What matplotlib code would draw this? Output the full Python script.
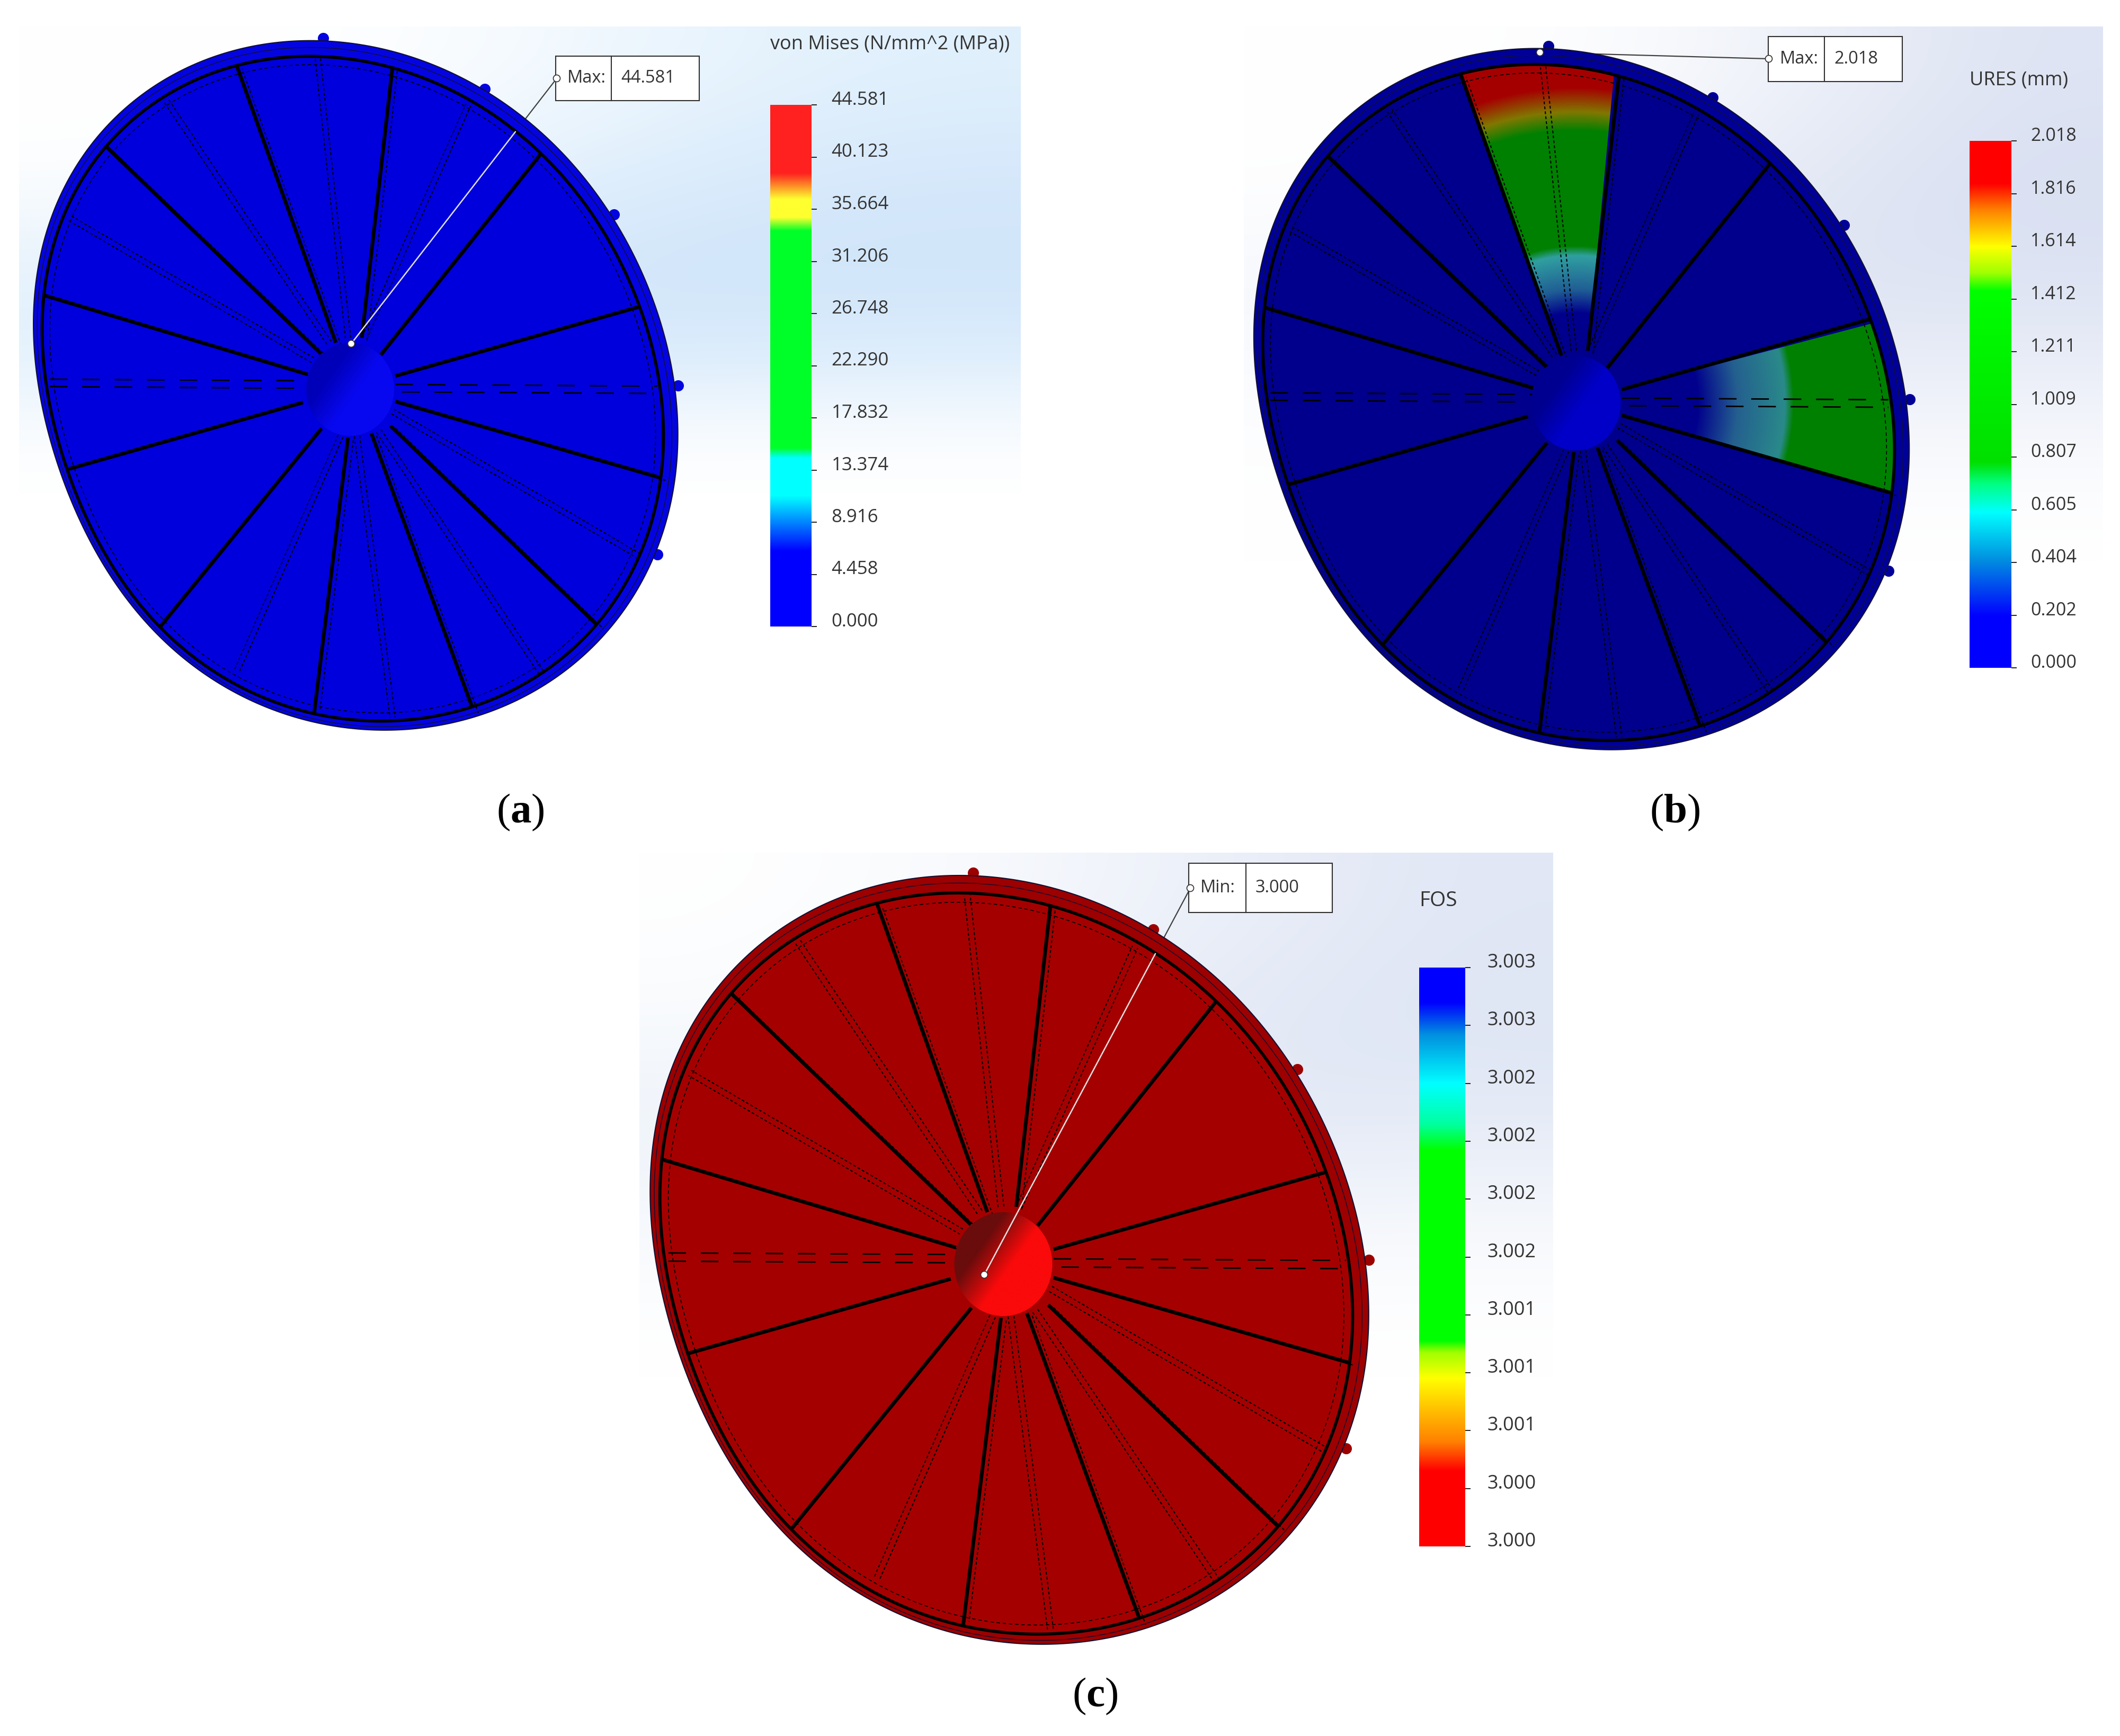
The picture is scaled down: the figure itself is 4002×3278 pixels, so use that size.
import numpy as np
from matplotlib import pyplot as plt
from matplotlib.colors import LinearSegmentedColormap
from matplotlib.patches import Ellipse, Polygon, Rectangle

W, H = 4002, 3278
plt.rcParams['font.family'] = ['Open Sans', 'DejaVu Sans']
plt.rcParams['mathtext.fontset'] = 'custom'
plt.rcParams['mathtext.bf'] = 'Liberation Serif:bold'
plt.rcParams['mathtext.rm'] = 'Liberation Serif'

# disc outline and spokes, offsets from hub centre in px
rim_x = [-55, 84, 240, 380, 490, 570, 605, 617, 612, 580, 487, 348, 232, 63, -71, -225, -360, -475, -550, -585, -598, -601, -586, -535, -471, -330, -203]
rim_y = [-663, -629, -575, -465, -340, -170, -33, 88, 190, 310, 458, 560, 620, 650, 630, 560, 470, 320, 145, -5, -106, -122, -250, -390, -480, -595, -646]
spoke_in_x = [-27, 22, 58, 85, 85, 76, 40, -4, -54, -89, -80, -55]
spoke_in_y = [-88, -97, -65, -25, 23, 69, 83, 91, 74, 25, -28, -67]
spoke_out_x = [-214, 79, 357, 540, 585, 468, 232, -67, -348, -529, -574, -458]
spoke_out_y = [-610, -606, -441, -154, 167, 447, 606, 601, 435, 150, -176, -455]
double_spoke = [True, True, False, False, True, True, True, True, False, False, True, True]
thin_in_x = [-4, 27, -40, -71, 80, 54, 13, -18]
thin_in_y = [-97, -97, -88, -55, 42, 79, 88, 88]
thin_out_x = [-61, 223, -348, -531, 545, 362, 80, -214]
thin_out_y = [-624, -537, -546, -324, 315, 537, 620, 532]
dash_x0 = [-567, -567, 85, 98]
dash_x1 = [-80, -89, 580, 580]
dash_y = [-19, -5, -9, 5]
bump_x = [-51, 254, 498, 619, 580]
bump_y = [-663, -567, -330, -7, 312]

# panels: hub centre, size factor
hub_a = (661, 735, 1.0)
hub_b = (2975, 761, 1.017)
hub_c = (1894, 2387, 1.115)

blue_cols = dict(face='#0000dc', rim='#0404e0', hub0='#0000b8', hub1='#0808f0')
navy_cols = dict(face='#00008c', rim='#000098', hub0='#000090', hub1='#0000c8')
red_cols = dict(face='#a50000', rim='#9c0000', hub0='#6a0c0c', hub1='#fa0a0a')

# loaded wedges of panel (b): spoke pair and radial colour bands
wedge1_spokes = (0, 1)
wedge1_r = [168, 212, 275, 293, 507, 542, 587, 640]
wedge1_c = ['#00008c', '#205f95', '#30a0a0', '#008000', '#008000', '#807800', '#a50000', '#a50000']
wedge2_spokes = (3, 4)
wedge2_r = [225, 300, 388, 404, 640]
wedge2_c = ['#00008c', '#24608f', '#2a8a8a', '#008000', '#008000']

# colour bars
labels_a = ['0.000', '4.458', '8.916', '13.374', '17.832', '22.290', '26.748', '31.206', '35.664', '40.123', '44.581']
labels_b = ['0.000', '0.202', '0.404', '0.605', '0.807', '1.009', '1.211', '1.412', '1.614', '1.816', '2.018']
labels_c = ['3.000', '3.000', '3.001', '3.001', '3.001', '3.002', '3.002', '3.002', '3.002', '3.003', '3.003']
stops_a = [(0, '#0000ff'), (.144, '#0000ff'), (.25, '#00ffff'), (.323, '#00ffff'), (.342, '#00ff28'), (.759, '#00ff28'),
           (.785, '#ffff30'), (.82, '#ffff30'), (.87, '#ff2020'), (1, '#ff2020')]
stops_b = [(0, '#0000ff'), (.097, '#0000ff'), (.205, '#0090e0'), (.295, '#00ffff'), (.35, '#00ff80'), (.39, '#00e000'),
           (.716, '#00ff00'), (.75, '#a0ff00'), (.80, '#ffff00'), (.87, '#ff8000'), (.92, '#ff0000'), (1, '#ff0000')]
stops_c = [(0, '#ff0000'), (.13, '#ff0000'), (.18, '#ff8000'), (.29, '#ffff00'), (.335, '#a0ff00'), (.355, '#00ff00'),
           (.685, '#00ff00'), (.73, '#00ffa0'), (.80, '#00ffff'), (.885, '#0090e0'), (.94, '#0000ff'), (1, '#0000ff')]

# backdrop colours on a coarse grid, top row first
bg_a = [[(255, 255, 255), (255, 255, 255), (236, 246, 254), (224, 240, 252)],
        [(255, 255, 255), (240, 248, 254), (222, 238, 252), (214, 232, 251)],
        [(232, 243, 252), (218, 235, 251), (208, 229, 250), (208, 229, 250)],
        [(225, 240, 252), (215, 234, 251), (215, 234, 251), (218, 236, 252)],
        [(255, 255, 255), (255, 255, 255), (255, 255, 255), (255, 255, 255)]]
bg_b = [[(255, 255, 255), (255, 255, 255), (240, 243, 250), (222, 228, 243)],
        [(255, 255, 255), (245, 247, 252), (228, 233, 245), (216, 223, 241)],
        [(245, 247, 252), (232, 236, 247), (222, 228, 243), (222, 228, 243)],
        [(252, 253, 254), (245, 247, 252), (240, 243, 250), (240, 243, 250)],
        [(255, 255, 255), (255, 255, 255), (255, 255, 255), (255, 255, 255)]]
bg_c = [[(255, 255, 255), (248, 250, 253), (236, 240, 249), (225, 231, 245)],
        [(250, 252, 254), (240, 244, 250), (228, 234, 246), (222, 229, 244)],
        [(238, 243, 250), (232, 238, 248), (226, 233, 246), (228, 234, 246)],
        [(245, 248, 252), (244, 247, 252), (244, 247, 252), (246, 248, 252)],
        [(255, 255, 255), (255, 255, 255), (255, 255, 255), (255, 255, 255)]]


def rim_outline(order=4):
    # smooth closed curve through the read rim points, low order fit of r(theta)
    th = np.arctan2(rim_y, rim_x)
    r = np.hypot(rim_x, rim_y)
    basis = lambda t: np.column_stack([np.ones_like(t)] + [f(k * t) for k in range(1, order + 1) for f in (np.cos, np.sin)])
    coef = np.linalg.lstsq(basis(th), r, rcond=None)[0]
    grid = np.linspace(-np.pi, np.pi, 721)[:-1]
    rad = basis(grid) @ coef
    return grid, np.column_stack([rad * np.cos(grid), rad * np.sin(grid)])


def radial_image(ax, cx, cy, s, radii, cols, clip):
    pts = clip.get_xy()
    x0, x1, y0, y1 = pts[:, 0].min(), pts[:, 0].max(), pts[:, 1].min(), pts[:, 1].max()
    xx, yy = np.meshgrid(np.arange(x0, x1, 2), np.arange(y0, y1, 2))
    r = np.hypot(xx - cx, yy - cy) / s
    t = np.interp(r, radii, np.linspace(0, 1, len(radii)))
    cmap = LinearSegmentedColormap.from_list('w', list(zip(np.linspace(0, 1, len(cols)), cols)))
    im = ax.imshow(t, cmap=cmap, vmin=0, vmax=1, extent=[x0, x1, y1, y0], aspect='auto', zorder=3)
    im.set_clip_path(clip)


def draw_disc(ax, hub, cols, wedges=()):
    cx, cy, s = hub
    grid, outline = rim_outline()
    place = lambda k, shift=(0, 0): (outline * k + shift) * s + [cx, cy]
    # the inner ring sits off centre, the rim is narrow at the lower left
    ring = place(.964, (-5, 6))

    ax.scatter(cx + np.array(bump_x) * s, cy + np.array(bump_y) * s, s=200, color=cols['rim'], zorder=1)
    ax.add_patch(Polygon(place(1.0), closed=True, fc=cols['rim'], ec='#101030', lw=1.5, zorder=2))
    ax.add_patch(Polygon(place(.985, (-2, 3)), closed=True, fc='none', ec='#101030', lw=1, zorder=2))
    face = Polygon(ring, closed=True, fc=cols['face'], ec='none', zorder=2)
    ax.add_patch(face)

    for (i, j), radii, wcols in wedges:
        a_i = np.arctan2(spoke_out_y[i], spoke_out_x[i])
        a_j = np.arctan2(spoke_out_y[j], spoke_out_x[j])
        arc = ring[(grid >= a_i) & (grid <= a_j)]
        corners = np.vstack([[(cx + spoke_in_x[i] * s, cy + spoke_in_y[i] * s)], arc,
                             [(cx + spoke_in_x[j] * s, cy + spoke_in_y[j] * s)]])
        clip = Polygon(corners, closed=True, fc='none', ec='none', transform=ax.transData)
        ax.add_patch(clip)
        radial_image(ax, cx, cy, s, radii, wcols, clip)

    ax.add_patch(Polygon(ring, closed=True, fc='none', ec='black', lw=4.2, zorder=4))
    ax.add_patch(Polygon(place(.94, (-5, 6)), closed=True, fc='none', ec='black', lw=1.2, ls=(0, (4, 3)), zorder=4))

    for k in range(len(thin_in_x)):
        dx = thin_out_x[k] - thin_in_x[k]
        dy = thin_out_y[k] - thin_in_y[k]
        nx, ny = -dy / np.hypot(dx, dy), dx / np.hypot(dx, dy)
        for off in (-5, 5):
            ax.plot([cx + (thin_in_x[k] + nx * off) * s, cx + (thin_out_x[k] + nx * off) * s],
                    [cy + (thin_in_y[k] + ny * off) * s, cy + (thin_out_y[k] + ny * off) * s],
                    color='black', lw=1.5, ls=(0, (2.5, 2)), zorder=4)

    for k in range(len(spoke_in_x)):
        xs = [cx + spoke_in_x[k] * s, cx + spoke_out_x[k] * s * 1.06]
        ys = [cy + spoke_in_y[k] * s, cy + spoke_out_y[k] * s * 1.06]
        line, = ax.plot(xs, ys, color='black', lw=5, solid_capstyle='butt', zorder=5)
        line.set_clip_path(face)
        if double_spoke[k]:
            ax.plot([xs[0] + 10, cx + spoke_out_x[k] * s + 10], [ys[0] + 5, cy + spoke_out_y[k] * s + 5],
                    color='black', lw=1.5, ls=(0, (2.5, 2)), zorder=4)

    for x0, x1, y in zip(dash_x0, dash_x1, dash_y):
        ax.plot([cx + x0 * s, cx + x1 * s], [cy + y * s, cy + y * s + 3], color='black', lw=2,
                ls=(0, (12, 10)), zorder=5)

    # hub, shaded from the upper left
    hw, hh = 83 * s, 88 * s
    xx, yy = np.meshgrid(np.linspace(-1, 1, 200), np.linspace(-1, 1, 200))
    t = np.clip((xx * .8 + yy * .6) * 1.4 + .8, 0, 1)
    hub_map = LinearSegmentedColormap.from_list('h', [cols['hub0'], cols['hub1']])
    im = ax.imshow(t, cmap=hub_map, vmin=0, vmax=1, extent=[cx - hw, cx + hw, cy + hh, cy - hh], aspect='auto', zorder=6)
    edge = Ellipse((cx, cy), 2 * hw, 2 * hh, fc='none', ec='none', transform=ax.transData)
    ax.add_patch(edge)
    im.set_clip_path(edge)
    return face


def draw_callout(ax, box, divider, tag, value, pin, tip, face, size=23.5):
    x0, y0, x1, y1 = box
    ax.plot([pin[0], tip[0]], [pin[1], tip[1]], color='#404040', lw=1.6, zorder=1.5)
    light, = ax.plot([pin[0], tip[0]], [pin[1], tip[1]], color='#e4e4e4', lw=1.8, zorder=7)
    light.set_clip_path(face)
    ax.add_patch(Rectangle((x0, y0), x1 - x0, y1 - y0, fc='white', ec='#303030', lw=1.5, zorder=8))
    ax.plot([divider, divider], [y0, y1], color='#303030', lw=1.5, zorder=9)
    ym = (y0 + y1) / 2
    ax.text(x0 + 22, ym, tag, fontsize=size, color='#333333', va='center', zorder=9)
    ax.text(divider + 18, ym, value, fontsize=size, color='#333333', va='center', zorder=9)
    for p in (pin, tip):
        ax.add_patch(Ellipse(p, 13, 13, fc='white', ec='#303030', lw=1.2, zorder=10))


def draw_colorbar(fig, x0, y0, x1, y1, stops, labels, title, title_y, size, title_size, pad):
    bar = fig.add_axes([x0 / W, 1 - y1 / H, (x1 - x0) / W, (y1 - y0) / H])
    cmap = LinearSegmentedColormap.from_list('bar', stops, N=512)
    bar.imshow(np.linspace(1, 0, 512)[:, None], cmap=cmap, vmin=0, vmax=1, aspect='auto', extent=[0, 1, 0, 10])
    bar.set_xticks([])
    bar.set_yticks(range(11))
    bar.set_yticklabels(labels, fontsize=size, color='#333333')
    bar.yaxis.tick_right()
    bar.tick_params(axis='y', length=7, width=1.4, pad=pad, color='#222222')
    for lab in bar.get_yticklabels():
        lab.set_verticalalignment('baseline')
    for sp in bar.spines.values():
        sp.set_visible(False)
    fig.text(x0 / W, 1 - title_y / H, title, fontsize=title_size, color='#333333', va='center')


fig = plt.figure(figsize=(W / 100, H / 100), dpi=100)
ax = fig.add_axes([0, 0, 1, 1])
ax.set_xlim(0, W)
ax.set_ylim(H, 0)
ax.axis('off')

ax.imshow(np.array(bg_a, dtype=np.uint8), extent=[36, 1927, 930, 50], aspect='auto', interpolation='bicubic', zorder=0)
ax.imshow(np.array(bg_b, dtype=np.uint8), extent=[2348, 3970, 1060, 50], aspect='auto', interpolation='bicubic', zorder=0)
ax.imshow(np.array(bg_c, dtype=np.uint8), extent=[1207, 2932, 2600, 1610], aspect='auto', interpolation='bicubic', zorder=0)
ax.set_xlim(0, W)
ax.set_ylim(H, 0)

face_a = draw_disc(ax, hub_a, blue_cols)
face_b = draw_disc(ax, hub_b, navy_cols, [(wedge1_spokes, wedge1_r, wedge1_c), (wedge2_spokes, wedge2_r, wedge2_c)])
face_c = draw_disc(ax, hub_c, red_cols)

draw_callout(ax, (1049, 106, 1320, 190), 1154, 'Max:', '44.581', (1051, 148), (663, 649), face_a)
draw_callout(ax, (3338, 69, 3591, 154), 3444, 'Max:', '2.018', (3339, 111), (2907, 99), face_b)
draw_callout(ax, (2244, 1630, 2515, 1723), 2352, 'Min:', '3.000', (2247, 1677), (1858, 2407), face_c)

draw_colorbar(fig, 1454, 198, 1532, 1183, stops_a, labels_a, 'von Mises (N/mm^2 (MPa))', 84, 25, 26, 20)
draw_colorbar(fig, 3718, 266, 3797, 1261, stops_b, labels_b, 'URES (mm)', 152, 24.5, 26, 19)
draw_colorbar(fig, 2679, 1827, 2766, 2920, stops_c, labels_c, 'FOS', 1701, 26, 28, 23)

ax.text(982, 1534, r'($\mathbf{a}$)', fontsize=57, family='Liberation Serif', ha='center', va='center')
ax.text(3162, 1534, r'($\mathbf{b}$)', fontsize=57, family='Liberation Serif', ha='center', va='center')
ax.text(2067, 3203, r'($\mathbf{c}$)', fontsize=57, family='Liberation Serif', ha='center', va='center')

fig.savefig('out.png', dpi=100)
